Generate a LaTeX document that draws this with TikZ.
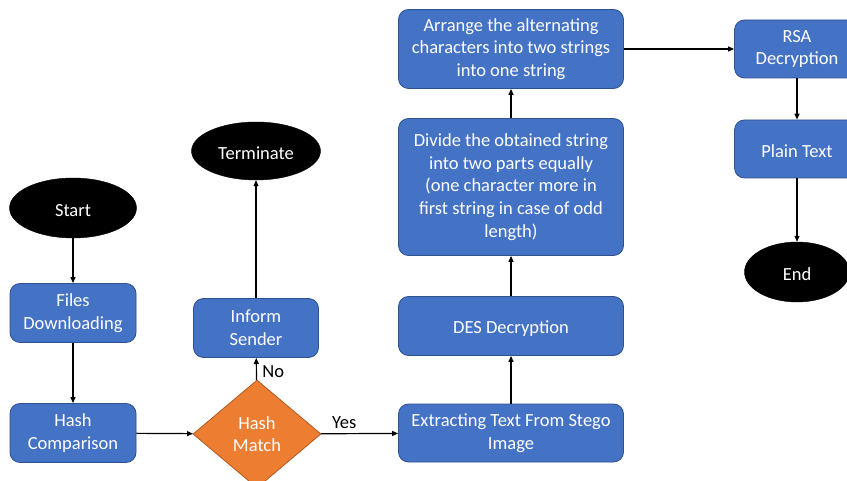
\documentclass[tikz,border=0pt]{standalone}
\usepackage{fontspec}
\setmainfont{Carlito}
\usetikzlibrary{shapes.geometric,arrows.meta}
\definecolor{boxblue}{HTML}{4472C4}
\definecolor{boxedge}{HTML}{2F528F}
\definecolor{decorange}{HTML}{ED7D31}
\definecolor{decedge}{HTML}{AE5A21}
\begin{document}
\begin{tikzpicture}[x=1pt,y=-1pt,
  txt/.style={font=\fontsize{18.5}{22.6}\selectfont},
  lowered/.style={execute at begin node={\rule{0pt}{17.5pt}}},
  stepbox/.style={txt, lowered, draw=boxedge, fill=boxblue, rounded corners=10pt, text=white, align=center, inner sep=0pt, line width=0.8pt},
  term/.style={txt, lowered, ellipse, fill=black, draw=black, text=white, inner sep=0pt},
  dec/.style={txt, lowered, diamond, fill=decorange, draw=decedge, text=white, align=center, inner sep=0pt, line width=0.8pt},
  arr/.style={-{Triangle[length=6pt,width=5pt]}, line width=1.2pt},
  lbl/.style={txt, text=black}]
\useasboundingbox (0,0) rectangle (847,481);
\fill[white] (0,0) rectangle (847,481);
% left column
\node[term, minimum width=127, minimum height=60] (start) at (73,208) {Start};
\node[stepbox, minimum width=126, minimum height=59] (files) at (73,313) {Files\\Downloading};
\node[stepbox, minimum width=126, minimum height=59] (hashc) at (73,433) {Hash\\Comparison};
% decision
\node[dec, minimum width=128, minimum height=108] (hashm) at (257,434) {Hash\\Match};
\node[stepbox, minimum width=125, minimum height=59] (inform) at (256,328) {Inform\\Sender};
\node[term, minimum width=129, minimum height=58] (termn) at (256,151) {Terminate};
% middle column
\node[stepbox, minimum width=225, minimum height=58] (extract) at (511,433) {Extracting Text From Stego\\Image};
\node[stepbox, minimum width=225, minimum height=59] (des) at (511,326) {DES Decryption};
\node[stepbox, minimum width=225, minimum height=137] (divide) at (511,187) {Divide the obtained string\\into two parts equally\\(one character more in\\first string in case of odd\\length)};
\node[stepbox, minimum width=225, minimum height=79] (arrange) at (511,49) {Arrange the alternating\\characters into two strings\\into one string};
% right column
\node[stepbox, minimum width=125, minimum height=58] (rsa) at (797,49) {RSA\\Decryption};
\node[stepbox, minimum width=125, minimum height=58] (plain) at (797,149) {Plain Text};
\node[term, minimum width=105, minimum height=60] (endn) at (797,272) {End};
% connectors
\draw[arr] (start) -- (files);
\draw[arr] (files) -- (hashc);
\draw[arr] (hashc) -- (hashm);
\draw[arr] (hashm) -- node[lbl, pos=0.4, right=2pt] {No} (inform);
\draw[arr] (inform) -- (termn);
\draw[arr] (hashm) -- node[lbl, above=1pt, pos=0.3] {Yes} (extract);
\draw[arr] (extract) -- (des);
\draw[arr] (des) -- (divide);
\draw[arr] (divide) -- (arrange);
\draw[arr] (arrange) -- (rsa);
\draw[arr] (rsa) -- (plain);
\draw[arr] (plain) -- (endn);
\end{tikzpicture}
\end{document}
